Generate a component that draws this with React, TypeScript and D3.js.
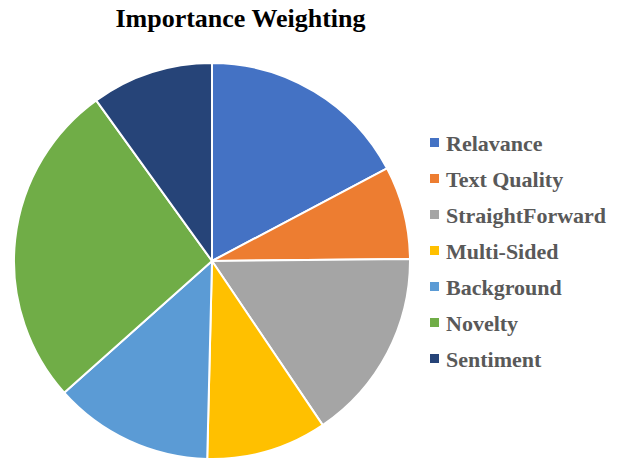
import React from "react";
import * as d3 from "d3";

const categories = ["Relavance", "Text Quality", "StraightForward", "Multi-Sided", "Background", "Novelty", "Sentiment"];
const values = [17.25, 7.58, 15.72, 9.83, 13.03, 26.64, 9.94];
const colors = ["#4472C4", "#ED7D31", "#A5A5A5", "#FFC000", "#5B9BD5", "#70AD47", "#264478"];
const title = "Importance Weighting";

export default function App() {
  const W = 621, H = 459;
  const cx = 212, cy = 261, r = 198;
  const pie = d3.pie<number>().sort(null).value((d) => d)(values);
  const arc = d3.arc<d3.PieArcDatum<number>>().innerRadius(0).outerRadius(r);
  const legendY = d3.scalePoint<string>().domain(categories).range([143, 359]);
  const font = "'Liberation Serif', 'Times New Roman', serif";
  return (
    <svg width={W} height={H} style={{ position: "absolute", left: 0, top: 0, background: "#fff" }}>
      <text x={240.5} y={27} textAnchor="middle" fontFamily={font} fontWeight="bold" fontSize={26} fill="#000">
        {title}
      </text>
      <g transform={`translate(${cx},${cy})`}>
        {pie.map((p, i) => (
          <path key={i} d={arc(p) || ""} fill={colors[i]} stroke="#fff" strokeWidth={2} strokeLinejoin="round" />
        ))}
      </g>
      {categories.map((c, i) => (
        <g key={c} transform={`translate(0,${legendY(c)})`}>
          <rect x={430} y={-5} width={9} height={9} fill={colors[i]} />
          <text x={446} y={7.5} fontFamily={font} fontWeight="bold" fontSize={22} fill="#595959">
            {c}
          </text>
        </g>
      ))}
    </svg>
  );
}
